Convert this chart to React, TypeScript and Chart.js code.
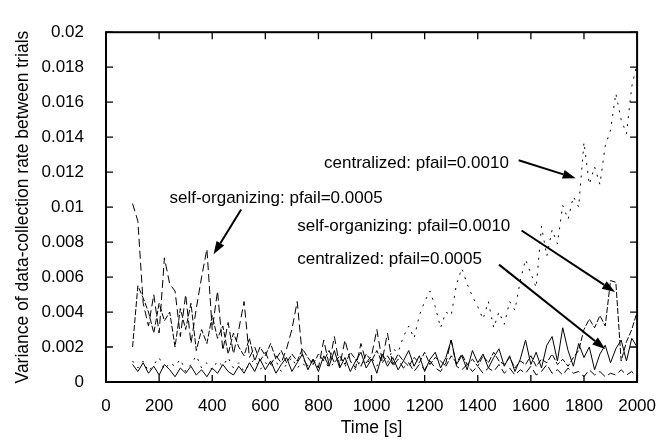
import React, { useEffect, useRef } from 'react';
import { Chart, registerables } from 'chart.js';

Chart.register(...registerables);

const times = [
  100, 120, 140, 160, 180, 200, 220, 240, 260, 280, 300, 320, 340, 360, 380, 400,
  420, 440, 460, 480, 500, 520, 540, 560, 580, 600, 620, 640, 660, 680, 700, 720,
  740, 760, 780, 800, 820, 840, 860, 880, 900, 920, 940, 960, 980, 1000, 1020, 1040,
  1060, 1080, 1100, 1120, 1140, 1160, 1180, 1200, 1220, 1240, 1260, 1280, 1300, 1320,
  1340, 1360, 1380, 1400, 1420, 1440, 1460, 1480, 1500, 1520, 1540, 1560, 1580, 1600,
  1620, 1640, 1660, 1680, 1700, 1720, 1740, 1760, 1780, 1800, 1820, 1840, 1860, 1880,
  1900, 1920, 1940, 1960, 1980, 2000,
];

// self-organizing: pfail=0.0005 (long dashes)
const selfOrg0005 = [
  0.0102, 0.0092, 0.0045, 0.0032, 0.0050, 0.0028, 0.0071, 0.0056, 0.0052, 0.0026, 0.0050, 0.0022, 0.0042, 0.0060, 0.0076, 0.0030,
  0.0052, 0.0018, 0.0034, 0.0016, 0.0030, 0.0046, 0.0014, 0.0020, 0.0012, 0.0017, 0.0010, 0.0015, 0.0011, 0.0019, 0.0030, 0.0046,
  0.0014, 0.0009, 0.0013, 0.0008, 0.0024, 0.0010, 0.0026, 0.0009, 0.0024, 0.0012, 0.0008, 0.0022, 0.0011, 0.0015, 0.0030, 0.0012,
  0.0028, 0.0009, 0.0013, 0.0008, 0.0011, 0.0006, 0.0010, 0.0007, 0.0012, 0.0008, 0.0006, 0.0011, 0.0024, 0.0009,
  0.0007, 0.0010, 0.0006, 0.0009, 0.0005, 0.0008, 0.0006, 0.0010, 0.0005, 0.0008, 0.0004, 0.0007, 0.0005, 0.0009,
  0.0004, 0.0006, 0.0010, 0.0005, 0.0007, 0.0004, 0.0008, 0.0005, 0.0006, 0.0003, 0.0007, 0.0004, 0.0006, 0.0003,
  0.0005, 0.0004, 0.0007, 0.0004, 0.0006, 0.0003,
];

// self-organizing: pfail=0.0010 (medium dashes)
const selfOrg0010 = [
  0.0020, 0.0055, 0.0048, 0.0040, 0.0028, 0.0045, 0.0035, 0.0040, 0.0020, 0.0042, 0.0030, 0.0045, 0.0018, 0.0030, 0.0022, 0.0038,
  0.0025, 0.0032, 0.0016, 0.0028, 0.0020, 0.0015, 0.0025, 0.0012, 0.0020, 0.0015, 0.0022, 0.0013, 0.0018, 0.0011, 0.0016, 0.0012,
  0.0019, 0.0014, 0.0010, 0.0016, 0.0012, 0.0018, 0.0011, 0.0015, 0.0010, 0.0017, 0.0013, 0.0009, 0.0016, 0.0012, 0.0018, 0.0011,
  0.0015, 0.0010, 0.0016, 0.0012, 0.0009, 0.0014, 0.0011, 0.0017, 0.0010, 0.0014, 0.0012, 0.0009, 0.0015, 0.0011,
  0.0016, 0.0010, 0.0013, 0.0009, 0.0015, 0.0011, 0.0017, 0.0012, 0.0010, 0.0014, 0.0008, 0.0012, 0.0010, 0.0015,
  0.0009, 0.0013, 0.0011, 0.0016, 0.0010, 0.0013, 0.0009, 0.0014, 0.0018, 0.0030, 0.0036, 0.0031, 0.0038, 0.0032,
  0.0058, 0.0057, 0.0012, 0.0023, 0.0030, 0.0040,
];

// centralized: pfail=0.0005 (solid)
const central0005 = [
  0.0010, 0.0006, 0.0011, 0.0005, 0.0009, 0.0004, 0.0010, 0.0007, 0.0003, 0.0008, 0.0005, 0.0009, 0.0004, 0.0007, 0.0003, 0.0008,
  0.0005, 0.0010, 0.0006, 0.0004, 0.0009, 0.0005, 0.0011, 0.0006, 0.0013, 0.0007, 0.0012, 0.0005, 0.0010, 0.0014, 0.0006, 0.0011,
  0.0016, 0.0007, 0.0013, 0.0006, 0.0015, 0.0009, 0.0018, 0.0008, 0.0014, 0.0006, 0.0012, 0.0017, 0.0008, 0.0013, 0.0005, 0.0016,
  0.0009, 0.0014, 0.0007, 0.0012, 0.0018, 0.0009, 0.0015, 0.0006, 0.0013, 0.0017, 0.0008, 0.0014, 0.0024, 0.0010,
  0.0015, 0.0007, 0.0018, 0.0011, 0.0016, 0.0008, 0.0014, 0.0019, 0.0009, 0.0015, 0.0006, 0.0013, 0.0024, 0.0010,
  0.0017, 0.0008, 0.0021, 0.0026, 0.0012, 0.0031, 0.0018, 0.0009, 0.0022, 0.0014, 0.0020, 0.0007, 0.0016, 0.0021,
  0.0011, 0.0019, 0.0024, 0.0012, 0.0025, 0.0020,
];

// centralized: pfail=0.0010 (dotted)
const central0010 = [
  0.0012, 0.0008, 0.0012, 0.0006, 0.0010, 0.0014, 0.0007, 0.0011, 0.0009, 0.0013, 0.0006, 0.0010, 0.0015, 0.0008, 0.0011, 0.0007,
  0.0012, 0.0009, 0.0014, 0.0008, 0.0011, 0.0006, 0.0010, 0.0013, 0.0007, 0.0011, 0.0009, 0.0012, 0.0006, 0.0010, 0.0014, 0.0008,
  0.0011, 0.0007, 0.0012, 0.0009, 0.0013, 0.0008, 0.0011, 0.0015, 0.0009, 0.0012, 0.0007, 0.0013, 0.0010, 0.0014, 0.0009, 0.0016,
  0.0011, 0.0019, 0.0017, 0.0026, 0.0032, 0.0025, 0.0038, 0.0046, 0.0052, 0.0043, 0.0031, 0.0040, 0.0038, 0.0056,
  0.0065, 0.0056, 0.0049, 0.0043, 0.0036, 0.0046, 0.0031, 0.0040, 0.0033, 0.0046, 0.0041, 0.0058, 0.0070, 0.0062,
  0.0054, 0.0089, 0.0072, 0.0087, 0.0079, 0.0101, 0.0093, 0.0106, 0.0100, 0.0137, 0.0113, 0.0123, 0.0113, 0.0135,
  0.0144, 0.0165, 0.0150, 0.0142, 0.0169, 0.0182,
];

const xTickLabels = ['0', '200', '400', '600', '800', '1000', '1200', '1400', '1600', '1800', '2000'];
const yTickLabels = ['0', '0.002', '0.004', '0.006', '0.008', '0.01', '0.012', '0.014', '0.016', '0.018', '0.02'];

const xTitle = 'Time [s]';
const yTitle = 'Variance of data-collection rate between trials';

// Annotation anchors in data coordinates
const annotations = [
  { text: 'centralized: pfail=0.0010', tx: 1517, ty: 0.01252, align: 'right', from: [1554, 0.01268], to: [1769, 0.01165] },
  { text: 'self-organizing: pfail=0.0005', tx: 239, ty: 0.0105, align: 'left', from: [509, 0.00986], to: [405, 0.0073] },
  { text: 'self-organizing: pfail=0.0010', tx: 720, ty: 0.00893, align: 'left', from: [1565, 0.00866], to: [1917, 0.00514] },
  { text: 'centralized: pfail=0.0005', tx: 720, ty: 0.00704, align: 'left', from: [1480, 0.00671], to: [1880, 0.00188] },
];

const FONT = '"Liberation Sans", Arial, Helvetica, sans-serif';
const FONT_SIZE = 17;
const TITLE_SIZE = 17.5;

const toPoints = (arr: number[]) => arr.map((v, i) => ({ x: times[i], y: v }));

const framePlugin = {
  id: 'framePlugin',
  afterDraw(chart: any) {
    const { ctx, chartArea } = chart;
    const xs = chart.scales.x;
    const ys = chart.scales.y;
    const { left, right, top, bottom } = chartArea;
    ctx.save();
    ctx.strokeStyle = '#000';
    ctx.lineWidth = 2;
    ctx.strokeRect(left, top, right - left, bottom - top);
    ctx.lineWidth = 1.3;
    const tl = 7;
    ctx.beginPath();
    xTickLabels.forEach((lab) => {
      const px = xs.getPixelForValue(parseFloat(lab));
      ctx.moveTo(px, bottom);
      ctx.lineTo(px, bottom - tl);
      ctx.moveTo(px, top);
      ctx.lineTo(px, top + tl);
    });
    yTickLabels.forEach((lab) => {
      const py = ys.getPixelForValue(parseFloat(lab));
      ctx.moveTo(left, py);
      ctx.lineTo(left + tl, py);
      ctx.moveTo(right, py);
      ctx.lineTo(right - tl, py);
    });
    ctx.stroke();

    // axis titles
    ctx.fillStyle = '#000';
    ctx.font = `${TITLE_SIZE}px ${FONT}`;
    ctx.textAlign = 'center';
    ctx.textBaseline = 'middle';
    ctx.fillText(xTitle, (left + right) / 2, 428);
    ctx.save();
    ctx.translate(23, (top + bottom) / 2);
    ctx.rotate(-Math.PI / 2);
    ctx.fillText(yTitle, 0, 0);
    ctx.restore();

    // annotations with arrows
    ctx.font = `${FONT_SIZE}px ${FONT}`;
    annotations.forEach((a) => {
      ctx.textAlign = a.align as CanvasTextAlign;
      ctx.textBaseline = 'middle';
      ctx.fillText(a.text, xs.getPixelForValue(a.tx), ys.getPixelForValue(a.ty));
      const x1 = xs.getPixelForValue(a.from[0]);
      const y1 = ys.getPixelForValue(a.from[1]);
      const x2 = xs.getPixelForValue(a.to[0]);
      const y2 = ys.getPixelForValue(a.to[1]);
      const ang = Math.atan2(y2 - y1, x2 - x1);
      const hl = 13;
      const hw = 4.5;
      const bx = x2 - hl * Math.cos(ang);
      const by = y2 - hl * Math.sin(ang);
      ctx.lineWidth = 2;
      ctx.beginPath();
      ctx.moveTo(x1, y1);
      ctx.lineTo(bx, by);
      ctx.stroke();
      ctx.beginPath();
      ctx.moveTo(x2, y2);
      ctx.lineTo(bx + hw * Math.sin(ang), by - hw * Math.cos(ang));
      ctx.lineTo(bx - hw * Math.sin(ang), by + hw * Math.cos(ang));
      ctx.closePath();
      ctx.fill();
    });
    ctx.restore();
  },
};

export default function App() {
  const canvasRef = useRef<HTMLCanvasElement | null>(null);

  useEffect(() => {
    document.body.style.margin = '0';
    const canvas = canvasRef.current;
    if (!canvas) return;
    const line = (data: number[], dash: number[]) => ({
      data: toPoints(data),
      borderColor: '#000',
      borderWidth: 1,
      borderDash: dash,
      pointRadius: 0,
      tension: 0,
      fill: false,
    });
    const chart = new Chart(canvas, {
      type: 'line',
      data: {
        datasets: [
          { label: 'centralized: pfail=0.0010', ...line(central0010, [2, 6]) },
          { label: 'self-organizing: pfail=0.0005', ...line(selfOrg0005, [8, 4]) },
          { label: 'self-organizing: pfail=0.0010', ...line(selfOrg0010, [6, 2]) },
          { label: 'centralized: pfail=0.0005', ...line(central0005, []) },
        ],
      },
      options: {
        animation: false,
        responsive: false,
        maintainAspectRatio: false,
        events: [],
        layout: { padding: { left: 0, right: 25, top: 13, bottom: 0 } },
        plugins: { legend: { display: false }, tooltip: { enabled: false } },
        scales: {
          x: {
            type: 'linear',
            min: 0,
            max: 2000,
            grid: { display: false, drawTicks: false },
            border: { display: false },
            ticks: {
              stepSize: 200,
              padding: 14,
              color: '#000',
              maxRotation: 0,
              autoSkip: false,
              font: { family: FONT, size: FONT_SIZE },
              callback: (_v: any, i: number) => xTickLabels[i],
            },
            afterFit: (s: any) => { s.height = 59; },
          },
          y: {
            type: 'linear',
            min: 0,
            max: 0.02,
            grid: { display: false, drawTicks: false },
            border: { display: false },
            ticks: {
              stepSize: 0.002,
              padding: 22,
              color: '#000',
              autoSkip: false,
              font: { family: FONT, size: FONT_SIZE },
              callback: (_v: any, i: number) => yTickLabels[i],
            },
            afterFit: (s: any) => { s.width = 106; },
          },
        },
      },
      plugins: [framePlugin],
    });
    return () => chart.destroy();
  }, []);

  return (
    <div style={{ width: 670, height: 441, background: '#fff' }}>
      <canvas ref={canvasRef} width={670} height={441} style={{ display: 'block' }} />
    </div>
  );
}
